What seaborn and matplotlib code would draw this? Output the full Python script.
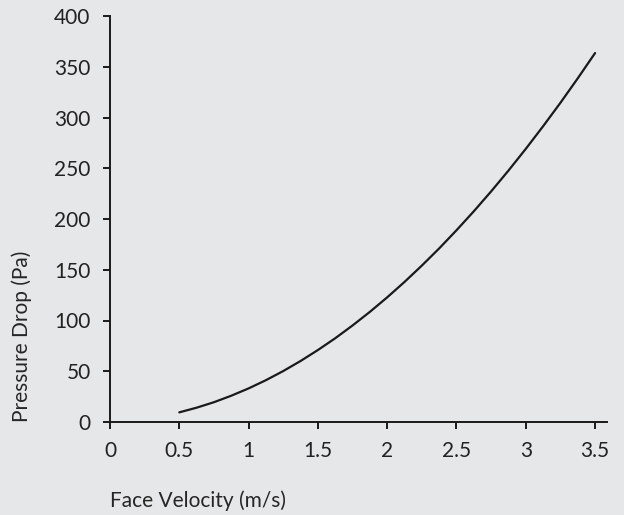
import numpy as np
import pandas as pd
import matplotlib
matplotlib.use('Agg')
import matplotlib.pyplot as plt
import seaborn as sns

# values
velocity = [0.5, 0.625, 0.75, 0.875, 1.0, 1.125, 1.25, 1.375, 1.5, 1.625, 1.75, 1.875,
            2.0, 2.125, 2.25, 2.375, 2.5, 2.625, 2.75, 2.875, 3.0, 3.125, 3.25, 3.375, 3.5]
pressure_drop = [9.5, 14.1, 19.5, 25.9, 33.1, 41.2, 50.2, 60.1, 70.9, 82.5, 95.1, 108.5,
                 122.8, 138.0, 154.1, 171.0, 188.9, 207.6, 227.2, 247.7, 269.1, 291.4,
                 314.5, 338.6, 363.5]

x_ticks = [0, 0.5, 1, 1.5, 2, 2.5, 3, 3.5]
x_tick_labels = ['0', '0.5', '1', '1.5', '2', '2.5', '3', '3.5']
y_ticks = [0, 50, 100, 150, 200, 250, 300, 350, 400]

df = pd.DataFrame({'velocity': velocity, 'dp': pressure_drop})

bg = '#e6e7e9'
sns.set_theme(style='ticks')
plt.rcParams['font.family'] = ['Lato', 'DejaVu Sans']
plt.rcParams['text.color'] = '#222222'

fig = plt.figure(figsize=(6.24, 5.15), dpi=100, facecolor=bg)
ax = fig.add_axes([110 / 624, 1 - 422 / 515, 497 / 624, 406 / 515])
ax.set_facecolor(bg)

sns.lineplot(data=df, x='velocity', y='dp', color='#1a1a1a', linewidth=1.6, ax=ax)

ax.set_xlim(0, 3.586)
ax.set_ylim(0, 400)
ax.set_xticks(x_ticks)
ax.set_xticklabels(x_tick_labels)
ax.set_yticks(y_ticks)

for s in ['top', 'right']:
    ax.spines[s].set_visible(False)
for s in ['left', 'bottom']:
    ax.spines[s].set_color('#1a1a1a')
    ax.spines[s].set_linewidth(1.4)

ax.tick_params(axis='both', direction='out', length=5, width=1.4, color='#1a1a1a',
               labelsize=15, labelcolor='#222222')
ax.tick_params(axis='x', pad=9)
ax.tick_params(axis='y', pad=9)

ax.set_xlabel('Face Velocity (m/s)', loc='left', fontsize=15, labelpad=21)
ax.set_ylabel('Pressure Drop (Pa)', loc='bottom', fontsize=15, labelpad=16)

fig.savefig('out.png', dpi=100, facecolor=bg)
